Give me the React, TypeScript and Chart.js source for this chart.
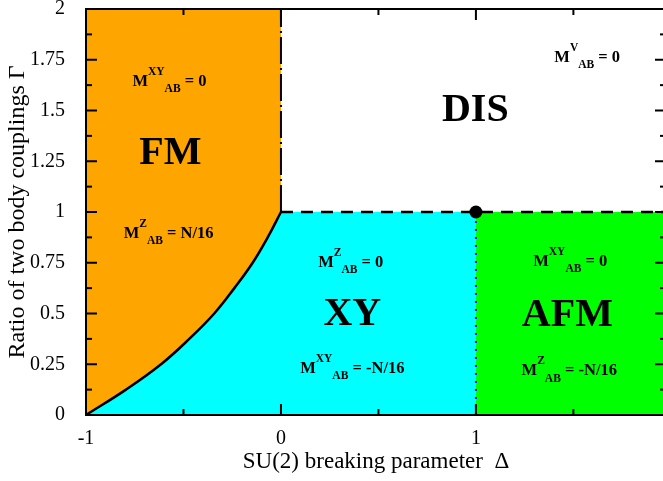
import React, { useEffect, useRef } from "react";
import { Chart, registerables } from "chart.js";

Chart.register(...registerables);

const SERIF = "'Liberation Serif', 'Times New Roman', serif";

// Axis ticks
const xMajorTicks = [-1, 0, 1];
const xMinorTicks = [-0.5, 0.5, 1.5];
const xTickLabels = ["-1", "0", "1"];
const yMajorTicks = [0, 0.25, 0.5, 0.75, 1, 1.25, 1.5, 1.75, 2];
const yMinorTicks = [0.125, 0.375, 0.625, 0.875, 1.125, 1.375, 1.625, 1.875];
const yTickLabels = ["0", "0.25", "0.5", "0.75", "1", "1.25", "1.5", "1.75", "2"];

// FM / XY phase boundary
const curveDelta = [-1, -0.795, -0.615, -0.47, -0.342, -0.239, -0.145, -0.068, 0];
const curveGamma = [0, 0.125, 0.25, 0.375, 0.5, 0.625, 0.75, 0.875, 1];

// Other boundaries
const disBoundaryGamma = 1; // horizontal line Γ = 1 for Δ >= 0
const fmDisDelta = 0; // vertical line Δ = 0 for Γ >= 1
const xyAfmDelta = 1; // vertical line Δ = 1 for Γ <= 1
const criticalPoint = { x: 1, y: 1 };

// Phase names
const phaseNames = ["FM", "DIS", "XY", "AFM"];
const phaseNameDelta = [-0.567, 0.997, 0.366, 1.469];
const phaseNameGamma = [1.286, 1.5, 0.493, 0.488];

// Order-parameter annotations: M^{sup}_{AB} rhs
const orderSup = ["XY", "Z", "V", "Z", "XY", "XY", "Z"];
const orderRhs = ["= 0", "= N/16", "= 0", "= 0", "= -N/16", "= 0", "= -N/16"];
const orderDelta = [-0.572, -0.576, 1.571, 0.358, 0.366, 1.484, 1.479];
const orderGamma = [1.621, 0.872, 1.74, 0.73, 0.207, 0.734, 0.197];

const X_MIN = -1;
const X_MAX = 1.975;
const Y_MIN = 0;
const Y_MAX = 2;

const ORANGE = "#FFA500";
const CYAN = "#00FFFF";
const GREEN = "#00FF00";

const overlayPlugin = {
  id: "overlay",
  afterDatasetsDraw(chart: any) {
    const { ctx, chartArea: ca, scales } = chart;
    const xs = scales.x;
    const ys = scales.y;
    ctx.save();
    // frame
    ctx.strokeStyle = "#000";
    ctx.lineWidth = 2;
    ctx.strokeRect(ca.left, ca.top, ca.right - ca.left, ca.bottom - ca.top);
    // inward ticks on all four sides
    ctx.lineWidth = 2;
    const seg = (x1: number, y1: number, x2: number, y2: number) => {
      ctx.beginPath();
      ctx.moveTo(x1, y1);
      ctx.lineTo(x2, y2);
      ctx.stroke();
    };
    const xt = (v: number, len: number) => {
      const px = xs.getPixelForValue(v);
      seg(px, ca.bottom, px, ca.bottom - len);
      seg(px, ca.top, px, ca.top + len);
    };
    const yt = (v: number, len: number) => {
      const py = ys.getPixelForValue(v);
      seg(ca.left, py, ca.left + len, py);
      seg(ca.right, py, ca.right - len, py);
    };
    xMajorTicks.forEach((v) => xt(v, 11));
    xMinorTicks.forEach((v) => xt(v, 6));
    yMajorTicks.forEach((v) => yt(v, 11));
    yMinorTicks.forEach((v) => yt(v, 6));

    // phase names
    ctx.fillStyle = "#000";
    ctx.textAlign = "center";
    ctx.textBaseline = "middle";
    ctx.font = `bold 40px ${SERIF}`;
    phaseNames.forEach((name, i) => {
      ctx.fillText(name, xs.getPixelForValue(phaseNameDelta[i]), ys.getPixelForValue(phaseNameGamma[i]));
    });

    // order parameters
    const big = `bold 16.5px ${SERIF}`;
    const small = `bold 11.5px ${SERIF}`;
    ctx.textAlign = "left";
    ctx.textBaseline = "alphabetic";
    orderSup.forEach((sup, i) => {
      const rhs = " " + orderRhs[i];
      ctx.font = big;
      const wM = ctx.measureText("M").width;
      const wR = ctx.measureText(rhs).width;
      ctx.font = small;
      const wS = ctx.measureText(sup).width;
      const wB = ctx.measureText("AB").width;
      const total = wM + wS + wB + wR;
      const cx = xs.getPixelForValue(orderDelta[i]);
      const by = ys.getPixelForValue(orderGamma[i]);
      let x = cx - total / 2;
      ctx.font = big;
      ctx.fillText("M", x, by);
      x += wM;
      ctx.font = small;
      ctx.fillText(sup, x, by - 11);
      x += wS;
      ctx.fillText("AB", x, by + 6.5);
      x += wB;
      ctx.font = big;
      ctx.fillText(rhs, x, by);
    });
    ctx.restore();
  },
};

export default function App() {
  const canvasRef = useRef<HTMLCanvasElement | null>(null);

  useEffect(() => {
    const canvas = canvasRef.current;
    if (!canvas) return;

    const curvePts = curveDelta.map((d, i) => ({ x: d, y: curveGamma[i] }));
    const cyanPts = [...curvePts, { x: xyAfmDelta, y: disBoundaryGamma }];
    const greenPts = [
      { x: xyAfmDelta, y: disBoundaryGamma },
      { x: X_MAX + 0.1, y: disBoundaryGamma },
    ];

    const chart = new Chart(canvas, {
      type: "line",
      data: {
        datasets: [
          {
            data: cyanPts,
            borderWidth: 0,
            borderColor: "rgba(0,0,0,0)",
            backgroundColor: CYAN,
            fill: "start",
            tension: 0,
            pointRadius: 0,
            order: 10,
          },
          {
            data: greenPts,
            borderWidth: 0,
            borderColor: "rgba(0,0,0,0)",
            backgroundColor: GREEN,
            fill: "start",
            pointRadius: 0,
            order: 10,
          },
          {
            data: curvePts,
            borderWidth: 2.5,
            borderColor: "#000",
            backgroundColor: ORANGE,
            fill: "end",
            tension: 0.4,
            pointRadius: 0,
            order: 5,
          },
          {
            data: [
              { x: xyAfmDelta, y: Y_MIN },
              { x: xyAfmDelta, y: disBoundaryGamma },
            ],
            borderWidth: 2,
            borderColor: "#0000FF",
            borderDash: [2, 6],
            fill: false,
            pointRadius: 0,
            order: 3,
          },
          {
            data: [
              { x: fmDisDelta, y: disBoundaryGamma },
              { x: fmDisDelta, y: Y_MAX },
            ],
            borderWidth: 2,
            borderColor: "#000",
            borderDash: [27, 4, 2, 4],
            fill: false,
            pointRadius: 0,
            order: 3,
          },
          {
            data: [
              { x: fmDisDelta, y: disBoundaryGamma },
              { x: X_MAX + 0.1, y: disBoundaryGamma },
            ],
            borderWidth: 2.5,
            borderColor: "#000",
            borderDash: [12, 8],
            fill: false,
            pointRadius: 0,
            order: 3,
          },
          {
            data: [criticalPoint],
            showLine: false,
            pointRadius: 6.5,
            pointBackgroundColor: "#000",
            pointBorderColor: "#000",
            pointBorderWidth: 0,
            order: 0,
          },
        ],
      },
      options: {
        animation: false,
        responsive: false,
        devicePixelRatio: 1,
        layout: { padding: { top: 9, right: 6, left: 0, bottom: 0 }, autoPadding: false },
        plugins: { legend: { display: false }, tooltip: { enabled: false } },
        scales: {
          x: {
            type: "linear",
            min: X_MIN,
            max: X_MAX,
            grid: { display: false },
            border: { display: false },
            afterBuildTicks: (s: any) => {
              s.ticks = xMajorTicks.map((v) => ({ value: v }));
            },
            afterFit: (s: any) => {
              s.height = 66;
              s.paddingLeft = 0;
              s.paddingRight = 0;
            },
            ticks: {
              padding: 4,
              color: "#000",
              maxRotation: 0,
              autoSkip: false,
              font: { family: SERIF, size: 20 },
              callback: (_v: any, i: number) => xTickLabels[i],
            },
            title: {
              display: true,
              text: "SU(2) breaking parameter  Δ",
              color: "#000",
              font: { family: SERIF, size: 23 },
              padding: { top: 0, bottom: 5 },
            },
          },
          y: {
            type: "linear",
            min: Y_MIN,
            max: Y_MAX,
            grid: { display: false },
            border: { display: false },
            afterBuildTicks: (s: any) => {
              s.ticks = yMajorTicks.map((v) => ({ value: v }));
            },
            afterFit: (s: any) => {
              s.width = 86;
              s.paddingTop = 0;
              s.paddingBottom = 0;
            },
            ticks: {
              padding: 13,
              color: "#000",
              autoSkip: false,
              font: { family: SERIF, size: 20 },
              callback: (_v: any, i: number) => yTickLabels[i],
            },
            title: {
              display: true,
              text: "Ratio of two body couplings Γ",
              color: "#000",
              font: { family: SERIF, size: 24 },
              padding: { top: 3, bottom: 0 },
            },
          },
        },
      } as any,
      plugins: [overlayPlugin],
    });

    return () => chart.destroy();
  }, []);

  return (
    <div
      style={{
        position: "absolute",
        left: 0,
        top: 0,
        width: 663,
        height: 481,
        overflow: "hidden",
        background: "#fff",
      }}
    >
      <canvas ref={canvasRef} width={672} height={481} style={{ display: "block", width: 672, height: 481 }} />
    </div>
  );
}
